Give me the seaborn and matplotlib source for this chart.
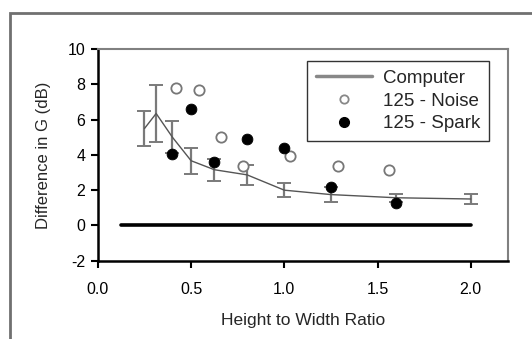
import matplotlib
matplotlib.use("Agg")
import matplotlib.pyplot as plt
import seaborn as sns
import pandas as pd
from matplotlib.patches import Rectangle
from matplotlib.lines import Line2D

# ---- data ----
comp_x = [0.25, 0.3125, 0.4, 0.5, 0.625, 0.8, 1.0, 1.25, 1.6, 2.0]
comp_y = [5.5, 6.35, 5.0, 3.67, 3.16, 2.87, 2.0, 1.75, 1.57, 1.5]
comp_err = [1.0, 1.62, 0.9, 0.74, 0.62, 0.58, 0.38, 0.43, 0.24, 0.29]

noise_x = [0.42, 0.54, 0.66, 0.78, 1.03, 1.29, 1.56]
noise_y = [7.82, 7.69, 5.0, 3.35, 3.93, 3.35, 3.16]

spark_x = [0.40, 0.50, 0.625, 0.80, 1.00, 1.25, 1.60]
spark_y = [4.08, 6.6, 3.6, 4.89, 4.37, 2.2, 1.29]

zero_x = [0.125, 2.0]
zero_y = [0.0, 0.0]

x_ticks = [0.0, 0.5, 1.0, 1.5, 2.0]
y_ticks = [-2, 0, 2, 4, 6, 8, 10]

sns.set_theme(style="white")
plt.rcParams['font.family'] = ['Liberation Sans', 'DejaVu Sans']

fig = plt.figure(figsize=(5.32, 3.39), dpi=100)
ax = fig.add_axes([0.184, 0.231, 0.771, 0.624])

# outer border
fig.patches.append(Rectangle((10/532, -0.1), 1.2, 1 - 13/339 + 0.1,
                             transform=fig.transFigure, fill=False,
                             edgecolor='#707070', linewidth=2.0, zorder=0))

comp_df = pd.DataFrame({"x": comp_x, "y": comp_y})
noise_df = pd.DataFrame({"x": noise_x, "y": noise_y})
spark_df = pd.DataFrame({"x": spark_x, "y": spark_y})
zero_df = pd.DataFrame({"x": zero_x, "y": zero_y})

sns.lineplot(data=zero_df, x="x", y="y", ax=ax, color="black", linewidth=2.6, zorder=2)
ax.errorbar(comp_x, comp_y, yerr=comp_err, fmt='none', ecolor='#7a7a7a',
            elinewidth=1.6, capsize=5, capthick=1.4, zorder=3)
sns.lineplot(data=comp_df, x="x", y="y", ax=ax, color="#555555", linewidth=1.0, zorder=4)
sns.scatterplot(data=noise_df, x="x", y="y", ax=ax, marker='o', s=55,
                facecolor='white', edgecolor='#777777', linewidth=1.3, zorder=5)
sns.scatterplot(data=spark_df, x="x", y="y", ax=ax, marker='o', s=60,
                color='black', edgecolor='black', zorder=6)

ax.set_xlim(0, 2.2)
ax.set_ylim(-2, 10)
ax.set_xticks(x_ticks)
ax.set_xticklabels([f"{v:.1f}" for v in x_ticks])
ax.set_yticks(y_ticks)
ax.set_yticklabels([str(v) for v in y_ticks])
ax.tick_params(axis='both', direction='out', length=5, width=1.5, colors='black',
               labelsize=11.5, pad=4, bottom=True, left=True)
ax.tick_params(axis='x', pad=10)

for s in ['left', 'bottom']:
    ax.spines[s].set_color('black')
    ax.spines[s].set_linewidth(1.8)
for s in ['top', 'right']:
    ax.spines[s].set_color('#808080')
    ax.spines[s].set_linewidth(1.5)

ax.set_xlabel("Height to Width Ratio", fontsize=12.5, labelpad=12)
ax.set_ylabel("Difference in G (dB)", fontsize=12, labelpad=12)

handles = [
    Line2D([], [], color='#888888', linewidth=2.5),
    Line2D([], [], linestyle='none', marker='o', markersize=6,
           markerfacecolor='white', markeredgecolor='#888888', markeredgewidth=1.3),
    Line2D([], [], linestyle='none', marker='o', markersize=7,
           markerfacecolor='black', markeredgecolor='black'),
]
leg = ax.legend(handles, ["Computer", "125 - Noise", "125 - Spark"],
                loc='upper right', bbox_to_anchor=(0.954, 0.943),
                frameon=True, fancybox=False, fontsize=13.5,
                handlelength=3.0, borderpad=0.45, labelspacing=0.3,
                handletextpad=0.6, borderaxespad=0)
leg.get_frame().set_edgecolor('black')
leg.get_frame().set_linewidth(1.0)

fig.savefig("out.png", dpi=100)
